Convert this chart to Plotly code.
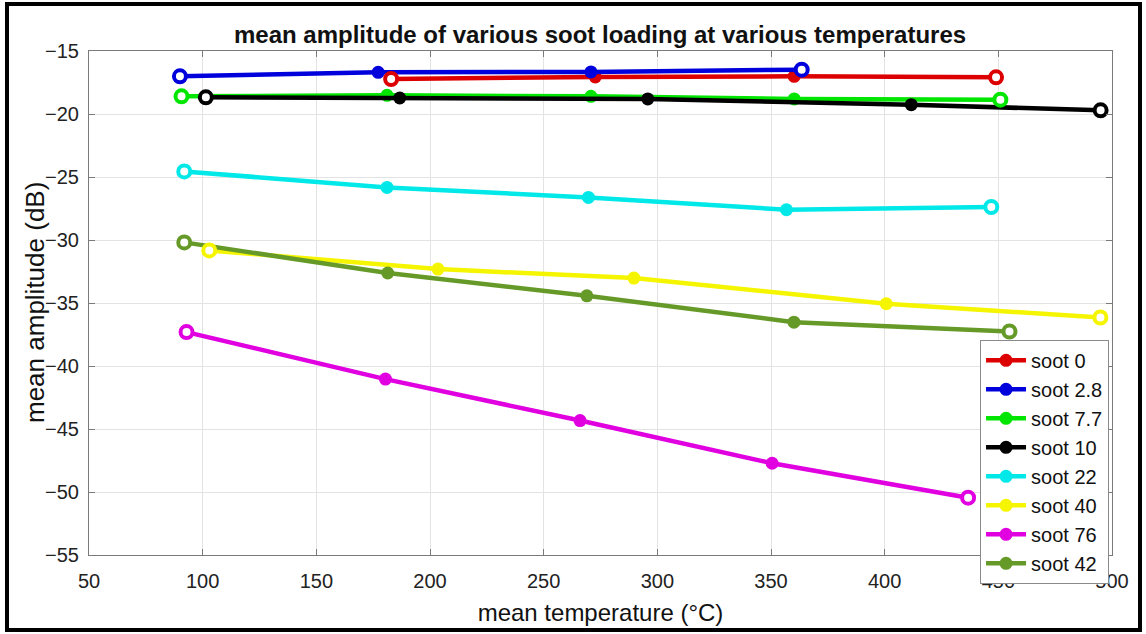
import plotly.graph_objects as go

names = ["soot 0", "soot 2.8", "soot 7.7", "soot 10", "soot 22", "soot 40", "soot 76", "soot 42"]
colors = ["#dd0000", "#0000dd", "#00e600", "#000000", "#00e8e8", "#f5f500", "#e000e0", "#669a28"]

x_soot0 = [182.9, 272.7, 360.2, 449.0]
y_soot0 = [-17.22, -17.06, -17.01, -17.09]
x_soot2_8 = [90.0, 177.2, 270.8, 363.5]
y_soot2_8 = [-17.01, -16.69, -16.66, -16.48]
x_soot7_7 = [90.7, 181.1, 270.8, 360.2, 450.9]
y_soot7_7 = [-18.60, -18.52, -18.60, -18.80, -18.86]
x_soot10 = [101.4, 186.7, 295.8, 411.7, 495.0]
y_soot10 = [-18.68, -18.73, -18.80, -19.26, -19.71]
x_soot22 = [91.9, 181.1, 269.7, 356.8, 446.9]
y_soot22 = [-24.56, -25.83, -26.62, -27.60, -27.38]
x_soot40 = [102.9, 203.5, 289.7, 400.7, 494.9]
y_soot40 = [-30.83, -32.31, -33.02, -35.06, -36.15]
x_soot76 = [92.9, 180.4, 266.0, 350.5, 436.7]
y_soot76 = [-37.31, -41.04, -44.33, -47.72, -50.45]
x_soot42 = [91.9, 181.4, 269.0, 360.1, 454.9]
y_soot42 = [-30.19, -32.62, -34.43, -36.52, -37.26]

xs = [x_soot0, x_soot2_8, x_soot7_7, x_soot10, x_soot22, x_soot40, x_soot76, x_soot42]
ys = [y_soot0, y_soot2_8, y_soot7_7, y_soot10, y_soot22, y_soot40, y_soot76, y_soot42]

x_ticks = [50, 100, 150, 200, 250, 300, 350, 400, 450, 500]
y_ticks = [-55, -50, -45, -40, -35, -30, -25, -20, -15]

FONT = "Liberation Sans, Arial, sans-serif"

fig = go.Figure()
for name, c, x, y in zip(names, colors, xs, ys):
    fig.add_trace(go.Scatter(
        x=x, y=y, mode="lines+markers", name=name,
        line=dict(color=c, width=4.5),
        marker=dict(color=c, size=13, symbol="circle"),
    ))
for name, c, x, y in zip(names, colors, xs, ys):
    fig.add_trace(go.Scatter(
        x=[x[0], x[-1]], y=[y[0], y[-1]], mode="markers", showlegend=False,
        marker=dict(color="white", size=12, symbol="circle",
                    line=dict(color=c, width=4)),
        hoverinfo="skip",
    ))

axis_common = dict(
    showline=True, linecolor="#7a7a7a", linewidth=1.2, mirror="ticks",
    ticks="inside", ticklen=6, tickcolor="#7a7a7a",
    showgrid=True, gridcolor="#e3e3e3", gridwidth=1,
    zeroline=False, tickfont=dict(family=FONT, size=20, color="#222222"),
)

fig.update_xaxes(range=[50, 500], tickvals=x_ticks, ticklabelstandoff=8,
                 title=dict(text="mean temperature (°C)", font=dict(family=FONT, size=24, color="#111111"), standoff=13),
                 **axis_common)
fig.update_yaxes(range=[-55, -15], tickvals=y_ticks, ticklabelstandoff=5,
                 **axis_common)

fig.add_annotation(text="mean amplitude (dB)", xref="paper", yref="paper",
                   x=(35 - 89) / 1023, y=0.5, xanchor="center", yanchor="middle",
                   textangle=-90, showarrow=False,
                   font=dict(family=FONT, size=26, color="#111111"))

fig.update_layout(
    width=1146, height=634,
    margin=dict(l=89, r=34, t=51, b=79),
    paper_bgcolor="white", plot_bgcolor="white",
    title=dict(text="<b>mean amplitude of various soot loading at various temperatures</b>",
               x=0.5236, xanchor="center", y=1 - 35 / 634, yanchor="middle",
               font=dict(family=FONT, size=24, color="#111111")),
    legend=dict(x=0.871, y=0.427, xanchor="left", yanchor="top",
                bgcolor="white", bordercolor="#8a8a8a", borderwidth=1,
                font=dict(family=FONT, size=20, color="#111111"),
                itemwidth=40, tracegroupgap=0),
    showlegend=True,
)

fig.add_shape(type="rect", xref="paper", yref="paper",
              x0=(7 - 89) / 1023, x1=(1140 - 89) / 1023,
              y0=(555 - 630) / 504, y1=(555 - 4) / 504,
              line=dict(color="black", width=4), fillcolor="rgba(0,0,0,0)", layer="above")

fig.write_html("out.html")
